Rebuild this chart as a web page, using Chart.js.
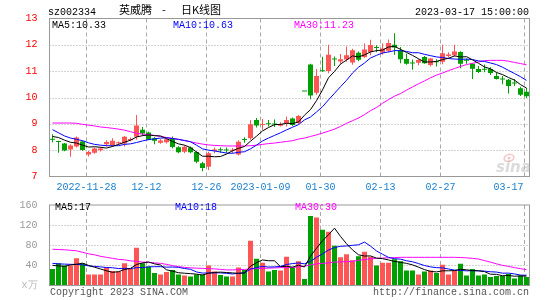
<!DOCTYPE html>
<html><head><meta charset="utf-8">
<script src="https://cdn.jsdelivr.net/npm/chart.js@4/dist/chart.umd.min.js"></script>
<style>
html,body{margin:0;padding:0;background:#fff;}
#wrap{position:relative;width:545px;height:300px;overflow:hidden;background:#fff;}
canvas{position:absolute;left:0;}
#c1{top:0;}
#c2{top:195px;}
</style></head>
<body><div id="wrap"><canvas id="c1" width="545" height="195"></canvas><canvas id="c2" width="545" height="105"></canvas></div>
<script>
const dates = ['2022-11-18','2022-11-21','2022-11-22','2022-11-23','2022-11-24','2022-11-25','2022-11-28','2022-11-29','2022-11-30','2022-12-01','2022-12-02','2022-12-05','2022-12-06','2022-12-07','2022-12-08','2022-12-09','2022-12-12','2022-12-13','2022-12-14','2022-12-15','2022-12-16','2022-12-19','2022-12-20','2022-12-21','2022-12-22','2022-12-23','2022-12-26','2022-12-27','2022-12-28','2022-12-29','2022-12-30','2023-01-03','2023-01-04','2023-01-05','2023-01-06','2023-01-09','2023-01-10','2023-01-11','2023-01-12','2023-01-13','2023-01-16','2023-01-17','2023-01-18','2023-01-19','2023-01-20','2023-01-30','2023-01-31','2023-02-01','2023-02-02','2023-02-03','2023-02-06','2023-02-07','2023-02-08','2023-02-09','2023-02-10','2023-02-13','2023-02-14','2023-02-15','2023-02-16','2023-02-17','2023-02-20','2023-02-21','2023-02-22','2023-02-23','2023-02-24','2023-02-27','2023-02-28','2023-03-01','2023-03-02','2023-03-03','2023-03-06','2023-03-07','2023-03-08','2023-03-09','2023-03-10','2023-03-13','2023-03-14','2023-03-15','2023-03-16','2023-03-17'];

const open  = [8.42,8.33,8.25,8.03,8.14,8.33,7.84,7.90,8.00,8.22,8.20,8.26,8.25,8.38,8.51,8.78,8.67,8.45,8.28,8.30,8.43,8.11,7.94,8.10,7.93,7.50,7.37,7.97,8.02,8.01,7.98,7.84,8.41,8.45,9.15,8.96,9.00,8.99,8.93,9.03,9.20,9.03,10.23,11.25,10.18,11.03,11.01,11.47,11.37,11.44,11.33,11.70,11.54,11.73,11.90,11.70,11.78,12.00,11.78,11.46,11.31,11.32,11.54,11.23,11.36,11.36,11.58,11.60,11.73,11.42,11.28,11.08,11.08,11.08,10.82,10.70,10.67,10.55,10.35,10.22];
const high  = [8.60,8.36,8.27,8.22,8.52,8.36,7.97,8.10,8.12,8.38,8.45,8.33,8.54,8.48,9.34,8.88,8.70,8.49,8.42,8.45,8.52,8.15,8.18,8.14,7.96,7.56,7.94,8.10,8.10,8.10,8.08,8.38,8.49,9.15,9.22,9.18,9.15,9.16,9.06,9.28,9.24,9.34,10.23,11.28,11.08,11.55,12.00,11.56,11.65,11.94,11.85,11.75,12.05,12.19,11.98,12.05,12.20,12.44,11.92,11.66,11.44,11.46,11.58,11.50,11.45,12.00,11.72,12.00,11.76,11.48,11.30,11.20,11.25,11.15,10.95,10.82,10.70,10.70,10.41,10.36];
const low   = [8.30,7.90,7.96,7.75,8.10,7.98,7.76,7.86,7.95,8.14,8.14,8.20,8.14,8.34,8.40,8.55,8.38,8.22,8.24,8.25,8.07,7.88,7.88,7.88,7.50,7.20,7.25,7.88,7.90,7.90,7.88,7.80,8.28,8.40,8.86,8.78,8.90,8.88,8.90,8.90,8.92,8.98,10.23,9.93,10.10,10.98,10.92,11.20,11.28,11.36,11.24,11.38,11.50,11.60,11.72,11.62,11.72,11.62,11.30,11.24,11.05,11.22,11.28,11.18,11.18,11.26,11.52,11.56,11.11,11.28,10.70,10.93,10.96,10.85,10.68,10.50,10.15,10.44,10.06,9.98];
const close = [8.40,8.31,7.99,8.18,8.48,8.01,7.93,8.06,8.06,8.31,8.36,8.29,8.51,8.42,8.94,8.63,8.40,8.36,8.37,8.41,8.12,7.92,8.13,7.92,7.56,7.32,7.88,8.03,8.00,7.99,8.00,8.32,8.39,8.98,8.94,8.99,8.98,8.97,8.99,9.15,8.96,9.30,10.23,10.08,10.82,11.00,11.62,11.44,11.45,11.60,11.79,11.43,11.82,11.99,11.88,11.86,12.07,11.90,11.45,11.28,11.29,11.42,11.30,11.48,11.34,11.68,11.63,11.75,11.28,11.40,11.09,10.97,11.05,10.93,10.70,10.68,10.44,10.53,10.10,10.05];
const volume = [33,44,40,40,54,44,22,22,22,36,29,28,44,33,75,44,38,25,22,27,31,22,20,18,22,22,40,28,21,18,18,36,31,89,53,45,28,31,30,57,36,48,13,138,135,111,107,79,56,62,50,58,67,57,40,45,45,52,48,30,30,22,28,30,25,41,22,30,43,20,33,20,22,17,19,19,23,14,20,17];

const ma5  = [8.52,8.48,8.38,8.30,8.27,8.19,8.12,8.13,8.11,8.08,8.14,8.22,8.30,8.38,8.50,8.55,8.58,8.55,8.54,8.44,8.33,8.24,8.19,8.10,7.93,7.77,7.77,7.75,7.76,7.85,7.98,8.07,8.14,8.34,8.53,8.73,8.86,8.97,8.98,9.02,9.01,9.07,9.33,9.54,9.88,10.29,10.75,10.99,11.27,11.42,11.58,11.54,11.62,11.73,11.78,11.80,11.92,11.94,11.83,11.71,11.60,11.47,11.35,11.35,11.37,11.44,11.49,11.58,11.54,11.55,11.43,11.30,11.16,11.09,10.95,10.87,10.76,10.66,10.49,10.36];
const ma10 = [8.78,8.66,8.54,8.46,8.41,8.36,8.28,8.22,8.19,8.17,8.17,8.17,8.22,8.24,8.29,8.35,8.40,8.43,8.46,8.47,8.44,8.41,8.37,8.32,8.19,8.05,8.00,7.97,7.93,7.89,7.88,7.92,7.94,8.05,8.19,8.35,8.46,8.56,8.66,8.77,8.87,8.97,9.15,9.26,9.45,9.65,9.91,10.16,10.41,10.65,10.93,11.15,11.31,11.50,11.60,11.69,11.73,11.78,11.78,11.75,11.70,11.70,11.64,11.59,11.54,11.52,11.48,11.46,11.45,11.46,11.44,11.39,11.37,11.31,11.25,11.15,11.03,10.91,10.79,10.65];
const ma30 = [9.03,9.03,9.03,9.03,9.02,8.98,8.95,8.92,8.88,8.86,8.83,8.80,8.76,8.70,8.64,8.61,8.59,8.56,8.52,8.48,8.45,8.41,8.36,8.32,8.27,8.23,8.20,8.18,8.17,8.16,8.16,8.16,8.16,8.17,8.19,8.22,8.25,8.27,8.30,8.33,8.36,8.42,8.46,8.52,8.58,8.65,8.72,8.80,8.90,9.02,9.12,9.22,9.35,9.50,9.62,9.78,9.92,10.05,10.15,10.28,10.40,10.52,10.63,10.75,10.85,10.93,11.02,11.10,11.18,11.25,11.30,11.35,11.40,11.41,11.41,11.41,11.38,11.33,11.29,11.24];

const vma5  = [40,39,38,41,42.2,44.4,40,36.4,32.8,29.2,26.2,27.4,31.8,34,41.8,44.8,46.8,43,40.8,31.2,28.6,25.4,24.4,23.6,22.6,20.8,24.4,26,26.6,25.8,25,24.2,24.8,38.4,45.4,50.8,49.2,49.2,37.4,38.2,36.4,40.4,36.8,58.4,74,89,100.8,114,97.6,83,70.8,61,58.6,58.8,54.4,53.4,50.8,47.8,46,44,41,36.4,31.6,28,27,29.2,29.2,29.6,32.2,31.2,29.6,29.2,27.6,22.4,22.2,19.4,20,18.4,19,18.6];
const vma10 = [44,43,42.5,42,42,41,39,38,37,35.7,35.3,33.7,34.1,33.4,35.5,35.5,37.1,37.4,37.4,36.5,36.7,36.1,33.7,32.2,26.9,24.7,24.9,25.2,25.1,24.2,22.9,24.3,25.4,32.5,35.6,37.9,36.7,37,37.9,41.8,43.6,44.8,43,47.9,56.1,62.7,70.6,75.4,78,78.5,79.9,80.9,86.3,78.2,68.7,62.1,55.9,53.2,52.4,49.2,47.2,43.6,39.7,37,35.5,35.1,32.8,30.6,30.1,29.1,29.4,29.2,28.6,27.3,26.7,24.5,24.6,23,20.7,20.4];
const vma30 = [72,71.5,71,70,69,66,63,61,58,56,54,52,51,49,48,46.5,46,45,44,42,39.5,37.5,36,35,34.5,34,33.5,33,32,31,31,31.5,32,33,33.5,34,34.5,35,35.5,35.5,36,37,38.5,41,43,44,45,46.5,47,47.5,48,50,51.5,53,54,54.5,55,55.5,56,56,56,56,56,56,56,56,56,56,55.5,55,54,52.5,49.5,46.5,43,40,38,35.5,33.5,31.5];

const xTickDates = ['2022-11-28','2022-12-12','2022-12-26','2023-01-09','2023-01-30','2023-02-13','2023-02-27','2023-03-17'];
const xTickTexts = ['2022-11-28','12-12','12-26','2023-01-09','01-30','02-13','02-27','03-17'];
const priceGrid = [8,9,10,11,12];
const volGrid = [40,80,120];
const maLabels = ['MA5:10.33','MA10:10.63','MA30:11.23'];
const volMaLabels = ['MA5:17','MA10:18','MA30:30'];

const UP = '#ff5555', DOWN = '#00a000';
const MONO = '"Liberation Mono", "DejaVu Sans Mono", monospace';
const candleColors = close.map((c,i)=> c > open[i] ? UP : DOWN);

function drawGrid(chart, hVals){
  const {ctx, chartArea:a, scales:{x,y}} = chart;
  ctx.save();
  ctx.lineWidth = 1;
  ctx.strokeStyle = '#a8a8a8';
  ctx.setLineDash([1,2]);
  hVals.forEach(v=>{
    const py = Math.round(y.getPixelForValue(v)) + 0.5;
    ctx.beginPath(); ctx.moveTo(a.left, py); ctx.lineTo(a.right, py); ctx.stroke();
  });
  ctx.setLineDash([4,3]);
  xTickDates.forEach(d=>{
    const i = dates.indexOf(d);
    const px = Math.floor(x.getPixelForValue(i) - 2) + 0.5;
    ctx.beginPath(); ctx.moveTo(px, a.top); ctx.lineTo(px, a.bottom); ctx.stroke();
  });
  ctx.restore();
}
function drawFrame(chart){
  const {ctx, chartArea:a} = chart;
  ctx.save();
  ctx.strokeStyle = '#999';
  ctx.lineWidth = 1;
  ctx.strokeRect(a.left, a.top, a.right - a.left, a.bottom - a.top);
  ctx.restore();
}
function drawMaTexts(chart, labels, xs, base){
  const ctx = chart.ctx;
  ctx.save();
  ctx.font = '10px ' + MONO;
  ctx.textBaseline = 'alphabetic';
  const cols = ['#000','#0000ff','#ff00ff'];
  labels.forEach((t,k)=>{ ctx.fillStyle = cols[k]; ctx.fillText(t, xs[k], base); });
  ctx.restore();
}

const mainPlugin = {
  id:'mainDecor',
  beforeDatasetsDraw(chart){ drawGrid(chart, priceGrid); },
  afterDatasetsDraw(chart){
    const {ctx, chartArea:a, scales:{x}} = chart;
    // watermark
    ctx.save();
    ctx.globalAlpha = 0.55;
    ctx.strokeStyle = '#e89a9a'; ctx.lineWidth = 1.5;
    ctx.beginPath(); ctx.ellipse(509, 158, 5, 3.5, -0.3, 0, Math.PI*2); ctx.stroke();
    ctx.fillStyle = '#e89a9a';
    ctx.beginPath(); ctx.arc(509, 158, 1.5, 0, Math.PI*2); ctx.fill();
    ctx.fillStyle = '#bdbdbd';
    ctx.font = 'italic bold 15px "DejaVu Sans", sans-serif';
    ctx.fillText('sina', 496, 172);
    ctx.restore();
    drawFrame(chart);
    drawMaTexts(chart, maLabels, [52, 173, 294], 28);
    // header
    ctx.save();
    ctx.fillStyle = '#000';
    ctx.font = '10px ' + MONO;
    ctx.textAlign = 'left';
    ctx.fillText('sz002334', 48, 15);
    ctx.textAlign = 'right';
    ctx.fillText('2023-03-17 15:00:00', 529, 15);
    ctx.textAlign = 'left';
    ctx.font = '11px "Noto Sans CJK SC", sans-serif';
    ctx.fillText('英威腾', 119, 14);
    ctx.fillText('-', 162, 14);
    ctx.fillText('日K线图', 181, 14);
    // x labels
    ctx.font = '10px ' + MONO;
    ctx.fillStyle = '#1a80d0';
    xTickDates.forEach((d,k)=>{
      const i = dates.indexOf(d);
      const px = Math.floor(x.getPixelForValue(i) - 2) + 0.5;
      const t = xTickTexts[k];
      const w = ctx.measureText(t).width;
      let tx = px - w/2;
      if (tx + w > a.right - 6) tx = a.right - 6 - w;
      ctx.fillText(t, tx, 190);
    });
    ctx.restore();
  }
};

const volPlugin = {
  id:'volDecor',
  beforeDatasetsDraw(chart){ drawGrid(chart, volGrid); },
  afterDatasetsDraw(chart){
    const ctx = chart.ctx;
    drawFrame(chart);
    drawMaTexts(chart, volMaLabels, [55, 175, 295], 15);
    ctx.save();
    ctx.font = '10px ' + MONO;
    ctx.fillStyle = '#555';
    ctx.textAlign = 'left';
    ctx.fillText('Copyright 2023 SINA.COM', 50, 100);
    ctx.textAlign = 'right';
    ctx.fillText('http://finance.sina.com.cn', 529, 100);
    ctx.restore();
  }
};

function lineDs(data, color){
  return {type:'line', data, borderColor:color, borderWidth:1, pointRadius:0, tension:0, fill:false, order:0};
}

new Chart(document.getElementById('c1'), {
  type:'bar',
  data:{
    labels:dates,
    datasets:[
      lineDs(ma5,'#000000'),
      lineDs(ma10,'#0000ff'),
      lineDs(ma30,'#ff00ff'),
      {type:'bar', data: low.map((l,i)=>[l, high[i]]), backgroundColor:candleColors, barThickness:1, grouped:false, inflateAmount:0, order:2},
      {type:'bar', data: open.map((o,i)=>[o, close[i]]), backgroundColor:candleColors, barThickness:5, minBarLength:1, grouped:false, inflateAmount:0, order:1}
    ]
  },
  options:{
    responsive:false, animation:false, devicePixelRatio:1,
    layout:{padding:{left:0,right:15.5,top:18.5,bottom:0}},
    plugins:{legend:{display:false}, tooltip:{enabled:false}},
    scales:{
      x:{offset:true, grid:{display:false}, border:{display:false}, ticks:{display:false}, afterFit:s=>{s.height=18.5;}},
      y:{min:7, max:13, grid:{display:false}, border:{display:false},
         ticks:{stepSize:1, color:'#ff0000', font:{family:MONO, size:10}, padding:4},
         afterFit:s=>{s.width=49.5;}}
    }
  },
  plugins:[mainPlugin]
});

new Chart(document.getElementById('c2'), {
  type:'bar',
  data:{
    labels:dates,
    datasets:[
      lineDs(vma5,'#000000'),
      lineDs(vma10,'#0000ff'),
      lineDs(vma30,'#ff00ff'),
      {type:'bar', data: volume, backgroundColor:candleColors, barThickness:5, grouped:false, inflateAmount:0, order:1}
    ]
  },
  options:{
    responsive:false, animation:false, devicePixelRatio:1,
    layout:{padding:{left:0,right:15.5,top:6.5,bottom:0}},
    plugins:{legend:{display:false}, tooltip:{enabled:false}},
    scales:{
      x:{offset:true, grid:{display:false}, border:{display:false}, ticks:{display:false}, afterFit:s=>{s.height=14.5;}},
      y:{min:0, max:160, grid:{display:false}, border:{display:false},
         ticks:{stepSize:40, font:{family:MONO, size:10}, padding:4,
                color:c=> c.tick && c.tick.value===0 ? '#b8b8b8' : '#999999',
                callback:v=> v===0 ? 'x万' : String(v)},
         afterFit:s=>{s.width=49.5;}}
    }
  },
  plugins:[volPlugin]
});
</script>
</body></html>
